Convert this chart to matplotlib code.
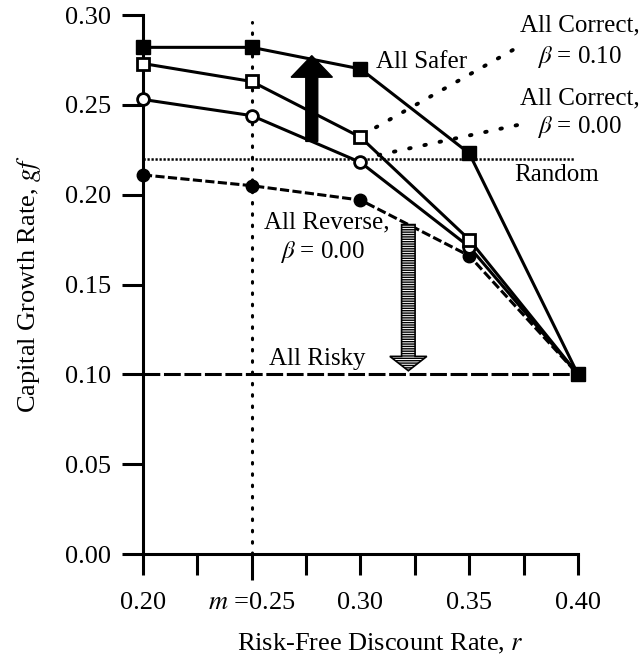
import numpy as np
import matplotlib
matplotlib.use('Agg')
import matplotlib.pyplot as plt
from matplotlib.patches import FancyArrow

plt.rcParams['font.family'] = ['Liberation Serif', 'DejaVu Serif']
plt.rcParams['mathtext.fontset'] = 'stix'

# values
rates = [0.20, 0.25, 0.30, 0.35, 0.40]
all_safer = [0.282, 0.282, 0.270, 0.223, 0.100]
correct_b10 = [0.273, 0.263, 0.232, 0.175, 0.100]
correct_b00 = [0.253, 0.244, 0.218, 0.171, 0.100]
reverse_b00 = [0.211, 0.205, 0.197, 0.166, 0.100]
random_rate = 0.220
risky_rate = 0.100
m_rate = 0.25

x_ticks = [0.20, 0.25, 0.30, 0.35, 0.40]
x_tick_labels = ['0.20', '$m$ =0.25', '0.30', '0.35', '0.40']
y_ticks = [0.00, 0.05, 0.10, 0.15, 0.20, 0.25, 0.30]

fig = plt.figure(figsize=(6.42, 6.70), dpi=100)
ax = fig.add_axes([0.2227, 0.1731, 0.6776, 0.8045])
ax.set_xlim(0.20, 0.40)
ax.set_ylim(0.0, 0.30)

lw = 2.2

# reference lines
ax.plot([m_rate, m_rate], [0.0, 0.296], color='black', lw=2.2,
        linestyle=(0, (0.5, 3.2)), dash_capstyle='round', clip_on=False)
ax.axhline(random_rate, xmin=0.0, xmax=0.99, color='black', lw=1.8,
           linestyle=(0, (0.9, 0.7)))
ax.axhline(risky_rate, color='black', lw=lw, linestyle=(0, (5.5, 1.2)))

# series
ax.plot(rates, reverse_b00, color='black', lw=lw, linestyle=(0, (3.0, 1.1)),
        marker='o', ms=9, mfc='black', mec='black', clip_on=False, zorder=3)
ax.plot(rates, correct_b00, color='black', lw=lw, marker='o', ms=8.5,
        mfc='white', mec='black', mew=2, clip_on=False, zorder=4)
ax.plot(rates, correct_b10, color='black', lw=lw, marker='s', ms=8,
        mfc='white', mec='black', mew=2, clip_on=False, zorder=5)
ax.plot(rates, all_safer, color='black', lw=lw, marker='s', ms=9.5,
        mfc='black', mec='black', clip_on=False, zorder=6)

# black arrow: from all correct (beta 0) up to all safer
up_r = 0.2776
up_lo = np.interp(up_r, rates, correct_b00)
up_hi = np.interp(up_r, rates, all_safer) + 0.002
ax.add_patch(FancyArrow(up_r, up_lo, 0, up_hi - up_lo, width=0.0055,
                        head_width=0.019, head_length=0.012,
                        length_includes_head=True, color='black', zorder=7))

# hatched arrow: from all reverse down to all risky
dn_r = 0.322
dn_hi = np.interp(dn_r, rates, reverse_b00)
ax.add_patch(FancyArrow(dn_r, dn_hi, 0, risky_rate + 0.002 - dn_hi,
                        width=0.0062, head_width=0.017, head_length=0.008,
                        length_includes_head=True, facecolor='white',
                        edgecolor='black', lw=1.2, hatch='-------', zorder=7))

# leader lines
dotted = dict(arrowstyle='-', color='black', lw=2.8,
              linestyle=(0, (0.4, 3.6)), capstyle='round',
              shrinkA=0, shrinkB=0)
ax.annotate('', xy=(0.302, correct_b10[2] + 0.002), xytext=(0.370, 0.2805),
            arrowprops=dotted)
ax.annotate('', xy=(0.308, correct_b00[2] + 0.004), xytext=(0.372, 0.2387),
            arrowprops=dotted)

fs = 18
ax.text(0.307, 0.274, 'All Safer', fontsize=fs, va='center', ha='left')
ax.text(0.401, 0.294, 'All Correct,', fontsize=fs, va='center', ha='center',
        clip_on=False)
ax.text(0.4005, 0.2766, r'$\beta$ = 0.10', fontsize=fs, va='center',
        ha='center', clip_on=False)
ax.text(0.401, 0.2537, 'All Correct,', fontsize=fs, va='center', ha='center',
        clip_on=False)
ax.text(0.4005, 0.2376, r'$\beta$ = 0.00', fontsize=fs, va='center',
        ha='center', clip_on=False)
ax.text(0.390, 0.2110, 'Random', fontsize=fs, va='center', ha='center',
        clip_on=False)
ax.text(0.2843, 0.1848, 'All Reverse,', fontsize=fs, va='center', ha='center')
ax.text(0.2827, 0.1680, r'$\beta$ = 0.00', fontsize=fs, va='center',
        ha='center')
ax.text(0.258, 0.1085, 'All Risky', fontsize=fs, va='center', ha='left')

# axes styling
for side in ['top', 'right']:
    ax.spines[side].set_visible(False)
for side in ['left', 'bottom']:
    ax.spines[side].set_linewidth(2.2)
ax.spines['left'].set_bounds(0.0, 0.30)

ax.set_yticks(y_ticks)
ax.set_yticklabels([f'{v:.2f}' for v in y_ticks])
ax.set_xticks(x_ticks)
ax.set_xticklabels(x_tick_labels)
ax.set_xticks(np.arange(0.225, 0.40, 0.05), minor=True)
ax.tick_params(axis='y', direction='out', length=15, width=2.2, pad=8,
               labelsize=19)
ax.tick_params(axis='x', which='both', direction='out', length=15, width=2.2,
               pad=12, labelsize=19)
ax.xaxis.get_major_ticks()[1].tick1line.set_markersize(19)

ax.set_xlabel('Risk-Free Discount Rate, $r$', fontsize=19, labelpad=22)
ax.xaxis.set_label_coords(0.545, -0.145)
ax.set_ylabel('Capital Growth Rate, $gf$', fontsize=19, labelpad=16)

fig.savefig('out.png', dpi=100)
plt.close(fig)
